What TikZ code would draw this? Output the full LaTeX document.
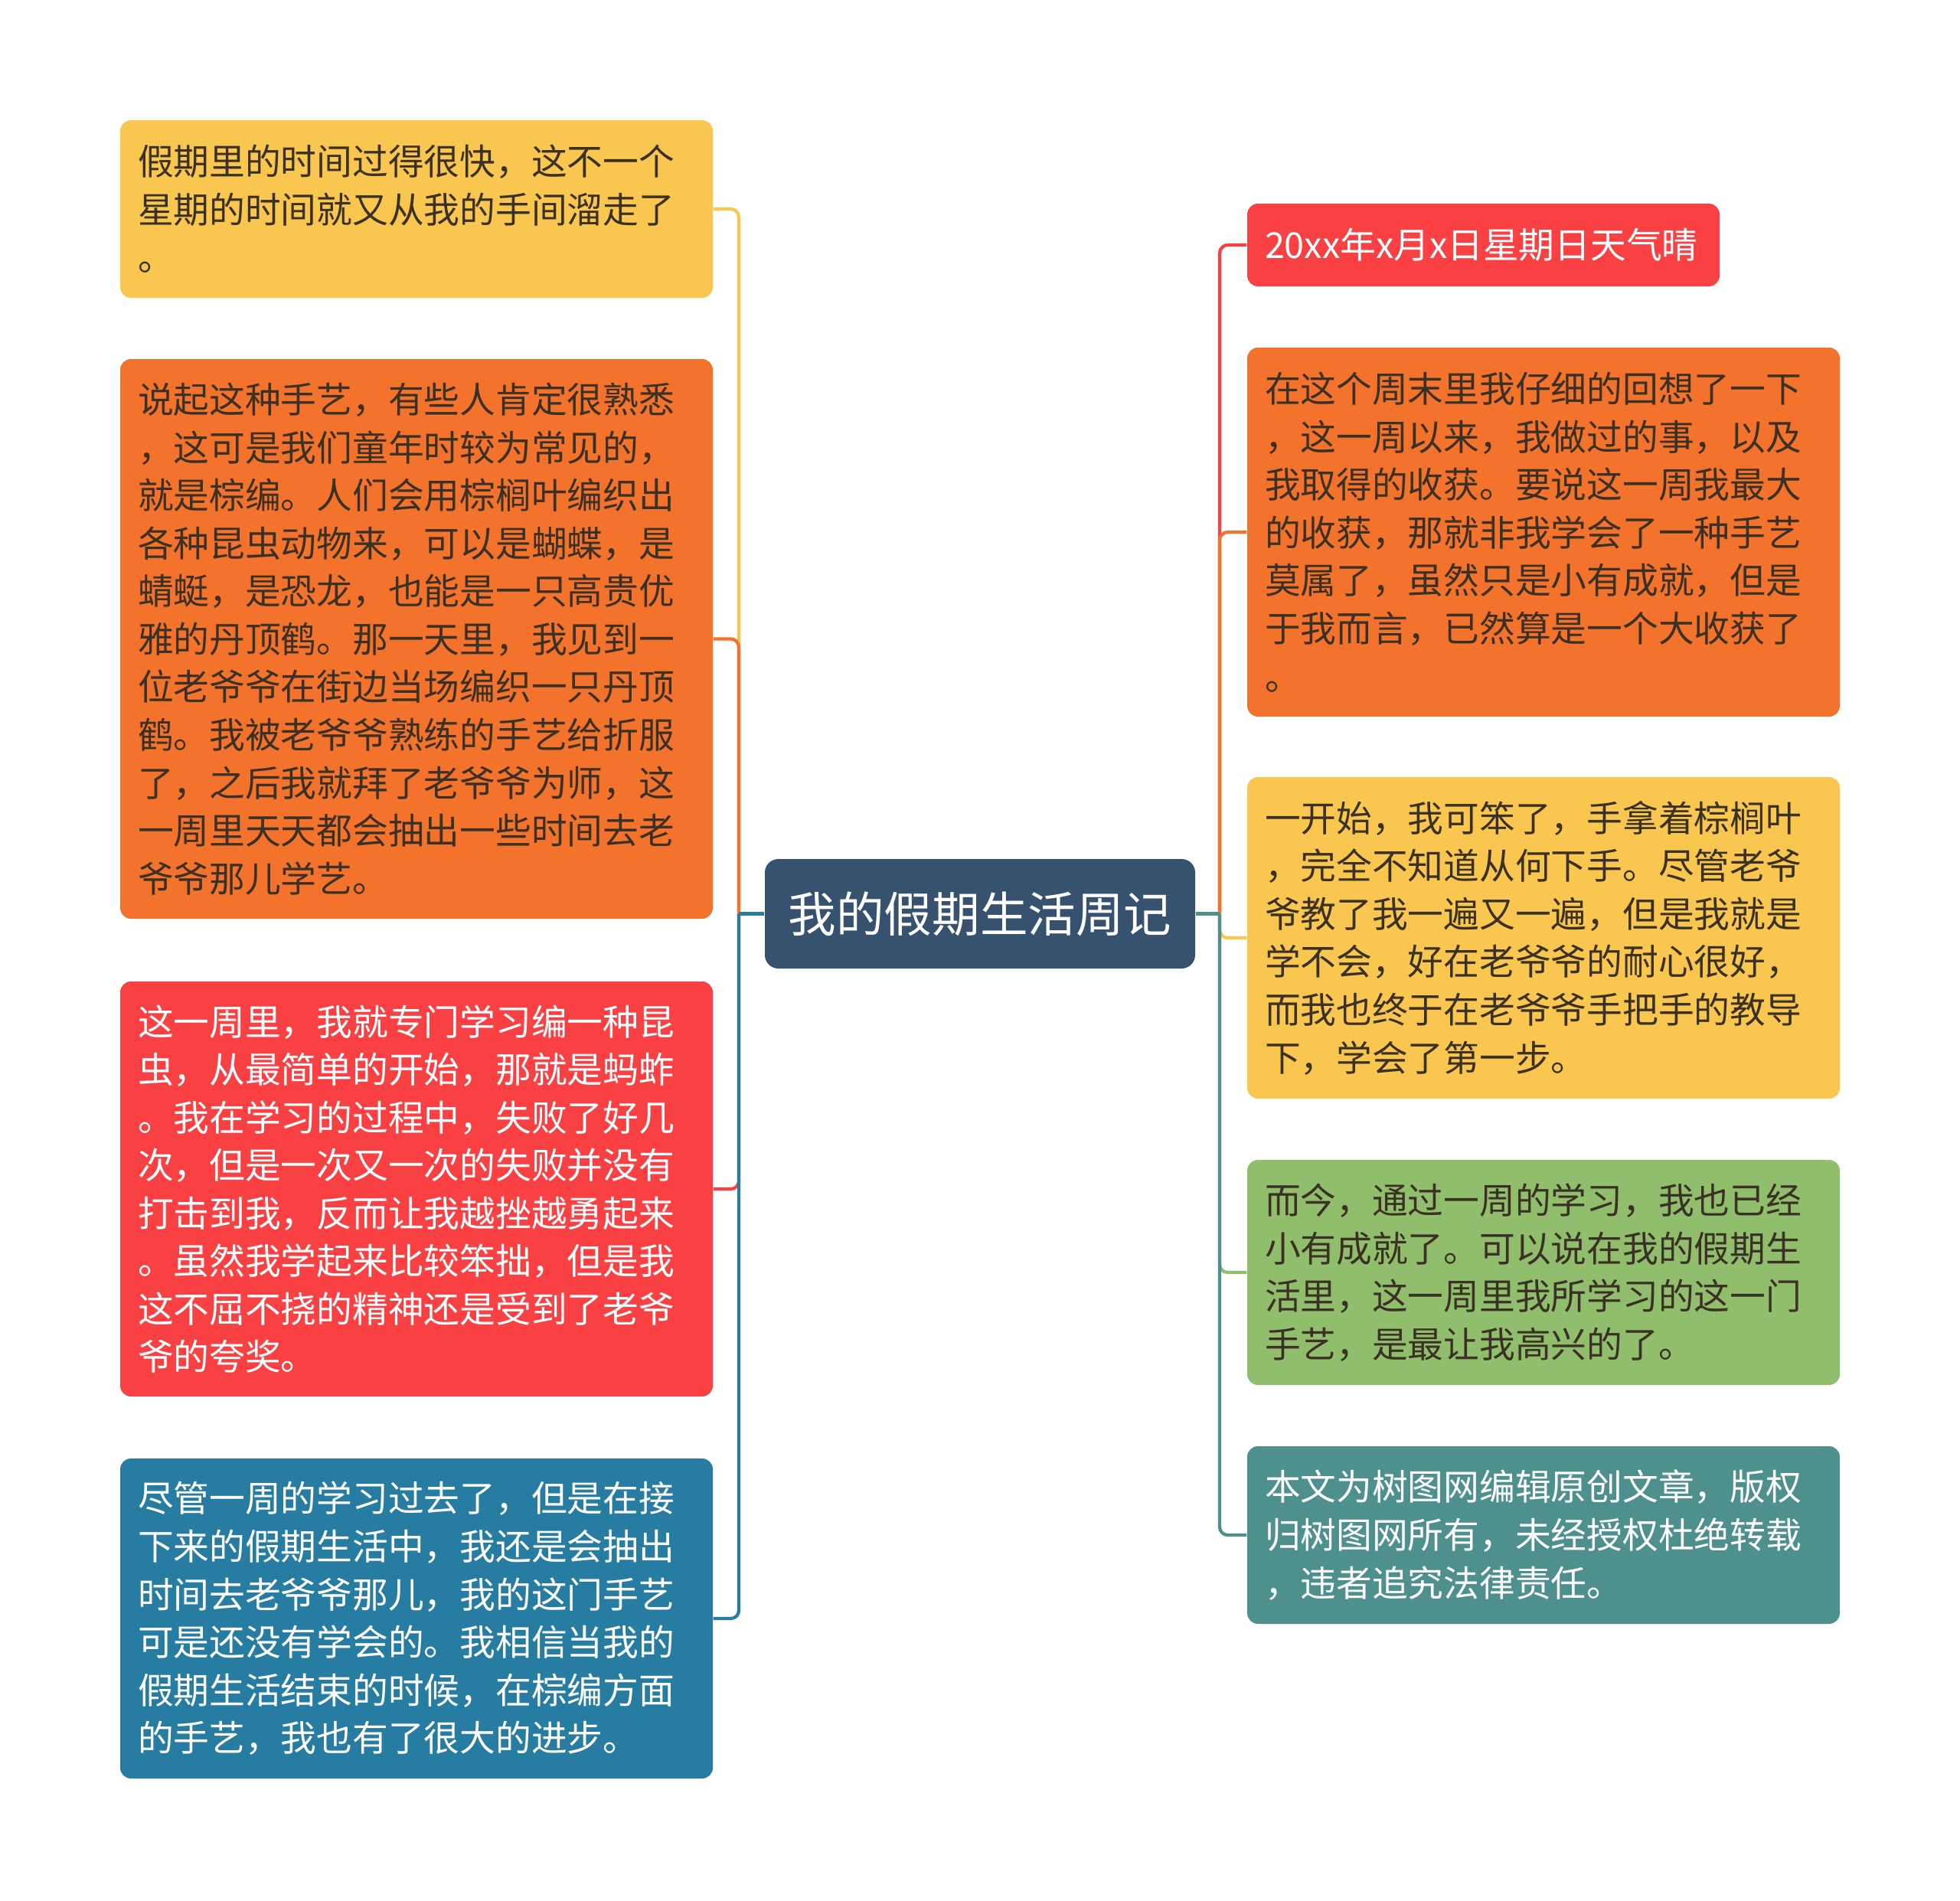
\documentclass[tikz,border=0pt]{standalone}
\usepackage{fontspec}
\setmainfont{Noto Sans CJK SC}

\definecolor{cRoot}{HTML}{36526E}
\definecolor{cYellow}{HTML}{F9C74F}
\definecolor{cOrange}{HTML}{F3722C}
\definecolor{cRed}{HTML}{F94144}
\definecolor{cGreen}{HTML}{90BE6D}
\definecolor{cTeal}{HTML}{4D908E}
\definecolor{cBlue}{HTML}{277DA1}
\definecolor{cDark}{HTML}{3A3124}

\tikzset{
  topic/.style={rounded corners=4pt, align=left, inner xsep=0.23cm, inner ysep=0pt,
    text width=7.28cm, font=\fontsize{13.3}{17.8}\selectfont},
  link/.style={line width=1.2pt, rounded corners=3pt},
}

\begin{document}
\begin{tikzpicture}[x=1cm,y=-1cm]
  \useasboundingbox (0,0) rectangle (25.6,24.82);

  % centre
  \node[fill=cRoot, text=white, rounded corners=5pt, minimum width=5.62cm, minimum height=1.43cm,
    font=\fontsize{17.8}{20}\selectfont] (root) at (12.80,11.935) {我的假期生活周记};

  % left side
  \node[topic, fill=cYellow, text=cDark, minimum height=2.32cm] (l1) at (5.44,2.73)
    {假期里的时间过得很快，这不一个\\星期的时间就又从我的手间溜走了\\。};
  \node[topic, fill=cOrange, text=cDark, minimum height=7.31cm] (l2) at (5.44,8.345)
    {说起这种手艺，有些人肯定很熟悉\\，这可是我们童年时较为常见的，\\就是棕编。人们会用棕榈叶编织出\\各种昆虫动物来，可以是蝴蝶，是\\蜻蜓，是恐龙，也能是一只高贵优\\雅的丹顶鹤。那一天里，我见到一\\位老爷爷在街边当场编织一只丹顶\\鹤。我被老爷爷熟练的手艺给折服\\了，之后我就拜了老爷爷为师，这\\一周里天天都会抽出一些时间去老\\爷爷那儿学艺。};
  \node[topic, fill=cRed, text=white, minimum height=5.42cm] (l3) at (5.44,15.53)
    {这一周里，我就专门学习编一种昆\\虫，从最简单的开始，那就是蚂蚱\\。我在学习的过程中，失败了好几\\次，但是一次又一次的失败并没有\\打击到我，反而让我越挫越勇起来\\。虽然我学起来比较笨拙，但是我\\这不屈不挠的精神还是受到了老爷\\爷的夸奖。};
  \node[topic, fill=cBlue, text=white, minimum height=4.18cm] (l4) at (5.44,21.14)
    {尽管一周的学习过去了，但是在接\\下来的假期生活中，我还是会抽出\\时间去老爷爷那儿，我的这门手艺\\可是还没有学会的。我相信当我的\\假期生活结束的时候，在棕编方面\\的手艺，我也有了很大的进步。};

  % right side
  \node[topic, fill=cRed, text=white, text width=5.71cm, minimum height=1.08cm] (r1) at (19.375,3.20)
    {20xx年x月x日星期日天气晴};
  \node[topic, fill=cOrange, text=cDark, minimum height=4.82cm] (r2) at (20.16,6.95)
    {在这个周末里我仔细的回想了一下\\，这一周以来，我做过的事，以及\\我取得的收获。要说这一周我最大\\的收获，那就非我学会了一种手艺\\莫属了，虽然只是小有成就，但是\\于我而言，已然算是一个大收获了\\。};
  \node[topic, fill=cYellow, text=cDark, minimum height=4.20cm] (r3) at (20.16,12.25)
    {一开始，我可笨了，手拿着棕榈叶\\，完全不知道从何下手。尽管老爷\\爷教了我一遍又一遍，但是我就是\\学不会，好在老爷爷的耐心很好，\\而我也终于在老爷爷手把手的教导\\下，学会了第一步。};
  \node[topic, fill=cGreen, text=cDark, minimum height=2.94cm] (r4) at (20.16,16.62)
    {而今，通过一周的学习，我也已经\\小有成就了。可以说在我的假期生\\活里，这一周里我所学习的这一门\\手艺，是最让我高兴的了。};
  \node[topic, fill=cTeal, text=white, minimum height=2.32cm] (r5) at (20.16,20.05)
    {本文为树图网编辑原创文章，版权\\归树图网所有，未经授权杜绝转载\\，违者追究法律责任。};

  \coordinate (lt) at (9.65,11.935);
  \coordinate (rt) at (15.93,11.935);

  \begin{scope}[link]
    \draw[cYellow] (lt) |- (l1.east);
    \draw[cOrange] (lt) |- (l2.east);
    \draw[cRed] (lt) |- (l3.east);
    \draw[cBlue] (lt) |- (l4.east);
    \draw[cBlue] (root.west) -- (lt);
    \draw[cRed] (rt) |- (r1.west);
    \draw[cOrange] (rt) |- (r2.west);
    \draw[cYellow] (rt) |- (r3.west);
    \draw[cGreen] (rt) |- (r4.west);
    \draw[cTeal] (rt) |- (r5.west);
    \draw[cTeal] (root.east) -- (rt);
  \end{scope}
\end{tikzpicture}
\end{document}
